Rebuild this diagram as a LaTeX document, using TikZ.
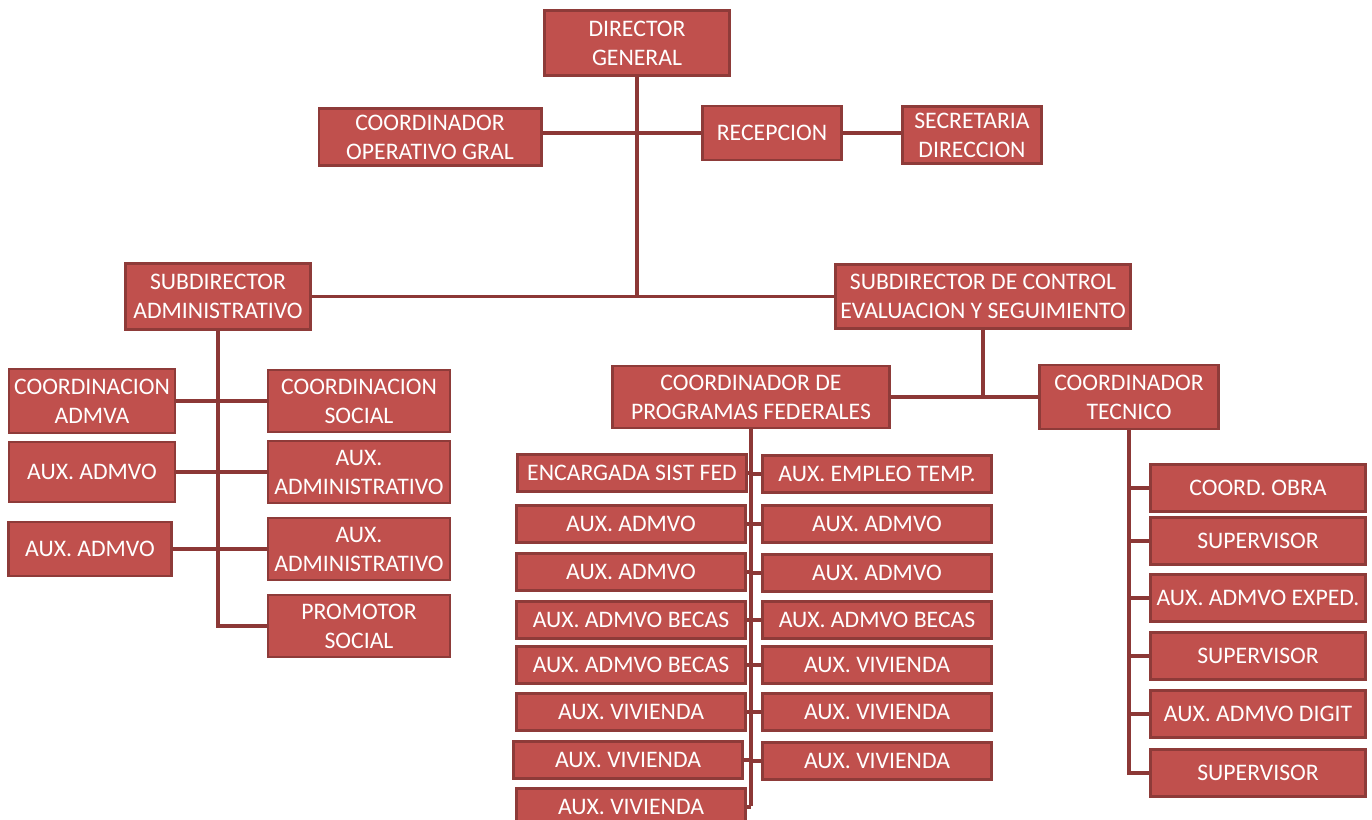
\documentclass[tikz,border=0pt]{standalone}
\usepackage{fontspec}
\setmainfont{Carlito}
\usepackage{tikz}
\usetikzlibrary{calc,positioning}

\definecolor{boxred}{HTML}{C0504D}
\definecolor{boxrim}{HTML}{8E3B39}
\definecolor{linkred}{HTML}{8C3836}

\tikzset{
  box/.style 2 args={draw=boxrim, fill=boxred, line width=1.7pt, text=white,
    align=center, inner sep=0pt, minimum width=#1*0.02cm, minimum height=#2*0.02cm,
    font=\fontsize{13.5}{16.5}\selectfont},
  link/.style={draw=linkred, line width=2.1pt}
}

\begin{document}
\begin{tikzpicture}[x=0.02cm, y=-0.02cm]
			\useasboundingbox (0,0) rectangle (1372,820);
			\clip (0,0) rectangle (1372,820);

			% top
			\node[box={185}{65}] (dir) at (637,43) {DIRECTOR\\GENERAL};
			\node[box={222}{57}] (coordop) at (430,137) {COORDINADOR\\OPERATIVO GRAL};
			\node[box={139}{54}] (recep) at (772,133) {RECEPCION};
			\node[box={139}{57}] (secre) at (972,135) {SECRETARIA\\DIRECCION};
			\node[box={185}{66}] (subadm) at (218,296.5) {SUBDIRECTOR\\ADMINISTRATIVO};
			\node[box={295}{64}] (subctl) at (983,296.5) {SUBDIRECTOR DE CONTROL\\EVALUACION Y SEGUIMIENTO};

			\draw[link] (dir.south) -- (dir.south |- subadm.east);
			\draw[link] (subadm.east) -- (subctl.west);
			\draw[link] (coordop.east |- recep.west) -- (recep.west);
			\draw[link] (recep.east) -- (secre.west |- recep.east);

			% administrativo
			\node[box={166}{64}] (coordadm) at (92,401) {COORDINACION\\ADMVA};
			\node[box={182}{62}] (coordsoc) at (359,401) {COORDINACION\\SOCIAL};
			\node[box={166}{60}] (auxa) at (92,472) {AUX. ADMVO};
			\node[box={182}{62}] (auxb) at (359,472) {AUX.\\ADMINISTRATIVO};
			\node[box={163}{54}] (auxc) at (90,549) {AUX. ADMVO};
			\node[box={182}{62}] (auxd) at (359,549) {AUX.\\ADMINISTRATIVO};
			\node[box={182}{62}] (promsoc) at (359,626) {PROMOTOR\\SOCIAL};

			\draw[link] (subadm.south) |- (promsoc.west);
			\draw[link] (coordadm.east) -- (coordsoc.west);
			\draw[link] (auxa.east) -- (auxb.west);
			\draw[link] (auxc.east) -- (auxd.west);

			% control
			\node[box={277}{62}] (coordfed) at (751,397) {COORDINADOR DE\\PROGRAMAS FEDERALES};
			\node[box={179}{64}] (coordtec) at (1129,397) {COORDINADOR\\TECNICO};

			\draw[link] (subctl.south) -- (subctl.south |- coordfed.east);
			\draw[link] (coordfed.east) -- (coordtec.west);

			\coordinate (fedend) at (751,806);
			\draw[link] (coordfed.south) -- (fedend);

			\foreach \t/\x/\y [count=\i] in {ENCARGADA SIST FED/632/473, AUX. ADMVO/631/524,
					AUX. ADMVO/631/572, AUX. ADMVO BECAS/631/620, AUX. ADMVO BECAS/631/665,
					AUX. VIVIENDA/631/712, AUX. VIVIENDA/628/760, AUX. VIVIENDA/631/807}{
				\node[box={229}{37}] (fedl\i) at (\x,\y) {\t};
				\draw[link] (fedl\i.east) -- (fedl\i.east -| fedend);
			}
			\foreach \t/\y [count=\i] in {AUX. EMPLEO TEMP./474, AUX. ADMVO/524, AUX. ADMVO/573,
					AUX. ADMVO BECAS/620, AUX. VIVIENDA/665, AUX. VIVIENDA/712, AUX. VIVIENDA/761}{
				\node[box={229}{37}] (fedr\i) at (877,\y) {\t};
				\draw[link] (fedr\i.west -| fedend) -- (fedr\i.west);
			}

			% tecnico
			\foreach \t/\y [count=\i] in {COORD. OBRA/488, SUPERVISOR/541, AUX. ADMVO EXPED./598,
					SUPERVISOR/656, AUX. ADMVO DIGIT/714, SUPERVISOR/773}{
				\node[box={215}{47}] (tec\i) at (1258,\y) {\t};
				\draw[link] (coordtec.south |- tec\i.west) -- (tec\i.west);
			}
			\draw[link] (coordtec.south) |- (tec6.west);

		\end{tikzpicture}
\end{document}
